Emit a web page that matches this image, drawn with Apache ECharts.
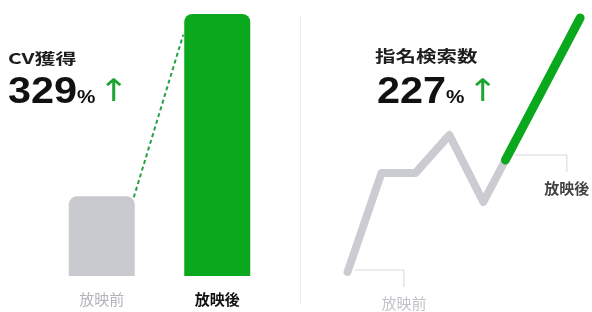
<!DOCTYPE html>
<html>
<head>
<meta charset="utf-8">
<script src="https://cdn.jsdelivr.net/npm/echarts@6.0.0/dist/echarts.min.js"></script>
<style>
html, body { margin: 0; padding: 0; background: #fff; }
#chart { width: 592px; height: 312px; }
</style>
</head>
<body>
<div id="chart"></div>
<script>
// CV獲得 : before / after bars
const cvCategories = ['放映前', '放映後'];
const cvValues = [100, 329];
const cvLinkEnd = 303; // dashed connector meets the second bar a bit below its top

// 指名検索数 : trend line (gray = before, green = after)
const searchBefore = [[0, 40], [1, 139], [2, 139], [3, 177], [4, 110], [4.65, 152]];
const searchAfter = [[4.65, 152], [6.85, 294]];

// callout leaders for the line chart
const beforeCallout = [[0.22, 42], [1.66, 42], [1.66, 25]];
const afterCallout = [[4.93, 157], [6.46, 157], [6.46, 140]];

const GREEN = '#0aa81d';
const GRAY = '#c9cad0';
const JP = '"Noto Sans CJK JP", sans-serif';
const NUM = '"Liberation Sans", Arial, sans-serif';

let myChart = echarts.init(document.getElementById('chart'));

function bigNumber(num) {
	return {
		text: '{n|' + num + '}{p|%}{a|↑}',
		verticalAlign: 'middle',
		rich: {
			n: { font: 'bold 36px ' + NUM, fill: '#111' },
			p: { font: 'bold 18px ' + NUM, fill: '#111', verticalAlign: 'bottom', padding: [0, 0, 4, 0] },
			a: { font: '31px "DejaVu Sans"', fill: '#1aa531', padding: [0, 0, 0, 3] }
		}
	};
}

let option = {
	animation: false,
	grid: [
		{ left: 44, right: 317, top: 14, bottom: 36, outerBoundsMode: 'none' },
		{ left: 300, right: 0, top: 15, bottom: 0, outerBoundsMode: 'none' }
	],
	xAxis: [
		{
			type: 'category',
			gridIndex: 0,
			data: cvCategories,
			axisLine: { show: false },
			axisTick: { show: false },
			axisLabel: {
				margin: 16,
				formatter: function(v, i) {
					return i === 0 ? '{a|' + v + '}' : '{b|' + v + '}';
				},
				rich: {
					a: { fontFamily: JP, fontSize: 15, color: '#b3b4ba' },
					b: { fontFamily: JP, fontSize: 15, fontWeight: 'bold', color: '#111' }
				}
			}
		},
		{ type: 'value', gridIndex: 1, min: -1.4, max: 7.2, show: false }
	],
	yAxis: [
		{ type: 'value', gridIndex: 0, min: 0, max: 329, show: false },
		{ type: 'value', gridIndex: 1, min: 0, max: 297, show: false }
	],
	graphic: [
		{ type: 'line', shape: { x1: 300.5, y1: 15, x2: 300.5, y2: 304 }, style: { stroke: '#ececee', lineWidth: 1 }, silent: true },
		{ type: 'text', x: 8, y: 58, scaleX: 1.4, style: { text: 'CV獲得', font: 'bold 15px ' + JP, fill: '#1e1e1e', verticalAlign: 'middle' } },
		{ type: 'text', x: 8, y: 93, scaleX: 1.15, style: bigNumber('329') },
		{ type: 'text', x: 375, y: 56, scaleX: 1.28, style: { text: '指名検索数', font: 'bold 16px ' + JP, fill: '#1e1e1e', verticalAlign: 'middle' } },
		{ type: 'text', x: 377, y: 93, scaleX: 1.15, style: bigNumber('227') }
	],
	series: [
		{
			type: 'bar',
			xAxisIndex: 0,
			yAxisIndex: 0,
			barWidth: 66,
			data: cvValues.map(function(v, i) {
				return { value: v, itemStyle: { color: i === 0 ? GRAY : GREEN, borderRadius: [8, 8, 0, 0] } };
			}),
			silent: true,
			z: 2
		},
		{
			type: 'custom',
			xAxisIndex: 0,
			yAxisIndex: 0,
			data: [[0, cvValues[0], 1, cvLinkEnd]],
			encode: { x: [0, 2], y: [1, 3] },
			renderItem: function(params, api) {
				let a = api.coord([api.value(0), api.value(1)]);
				let b = api.coord([api.value(2), api.value(3)]);
				return {
					type: 'line',
					shape: { x1: a[0] + 32, y1: a[1] + 1, x2: b[0] - 34, y2: b[1] },
					style: { stroke: '#27a043', lineWidth: 2, lineDash: [4, 3] }
				};
			},
			silent: true,
			z: 1
		},
		{
			type: 'line',
			xAxisIndex: 1,
			yAxisIndex: 1,
			data: beforeCallout,
			symbol: 'none',
			lineStyle: { color: '#d6d6da', width: 1 },
			silent: true,
			z: 1
		},
		{
			type: 'line',
			xAxisIndex: 1,
			yAxisIndex: 1,
			data: afterCallout,
			symbol: 'none',
			lineStyle: { color: '#d6d6da', width: 1 },
			silent: true,
			z: 1
		},
		{
			type: 'line',
			xAxisIndex: 1,
			yAxisIndex: 1,
			data: searchBefore,
			symbol: 'none',
			clip: false,
			lineStyle: { color: '#cbccd2', width: 8, cap: 'round', join: 'round' },
			silent: true,
			z: 2
		},
		{
			type: 'line',
			xAxisIndex: 1,
			yAxisIndex: 1,
			data: searchAfter,
			symbol: 'none',
			clip: false,
			lineStyle: { color: GREEN, width: 9, cap: 'round', join: 'round' },
			silent: true,
			z: 3
		},
		{
			type: 'scatter',
			xAxisIndex: 1,
			yAxisIndex: 1,
			symbolSize: 1,
			itemStyle: { color: 'rgba(0,0,0,0)' },
			data: [
				{ value: beforeCallout[2], label: { formatter: '放映前', color: '#b3b4ba', fontWeight: 'normal' } },
				{ value: afterCallout[2], label: { formatter: '放映後', color: '#111', fontWeight: 'bold' } }
			],
			label: { show: true, position: 'bottom', distance: 8, fontFamily: JP, fontSize: 15 },
			silent: true,
			z: 4
		}
	]
};

myChart.setOption(option);
</script>
</body>
</html>
